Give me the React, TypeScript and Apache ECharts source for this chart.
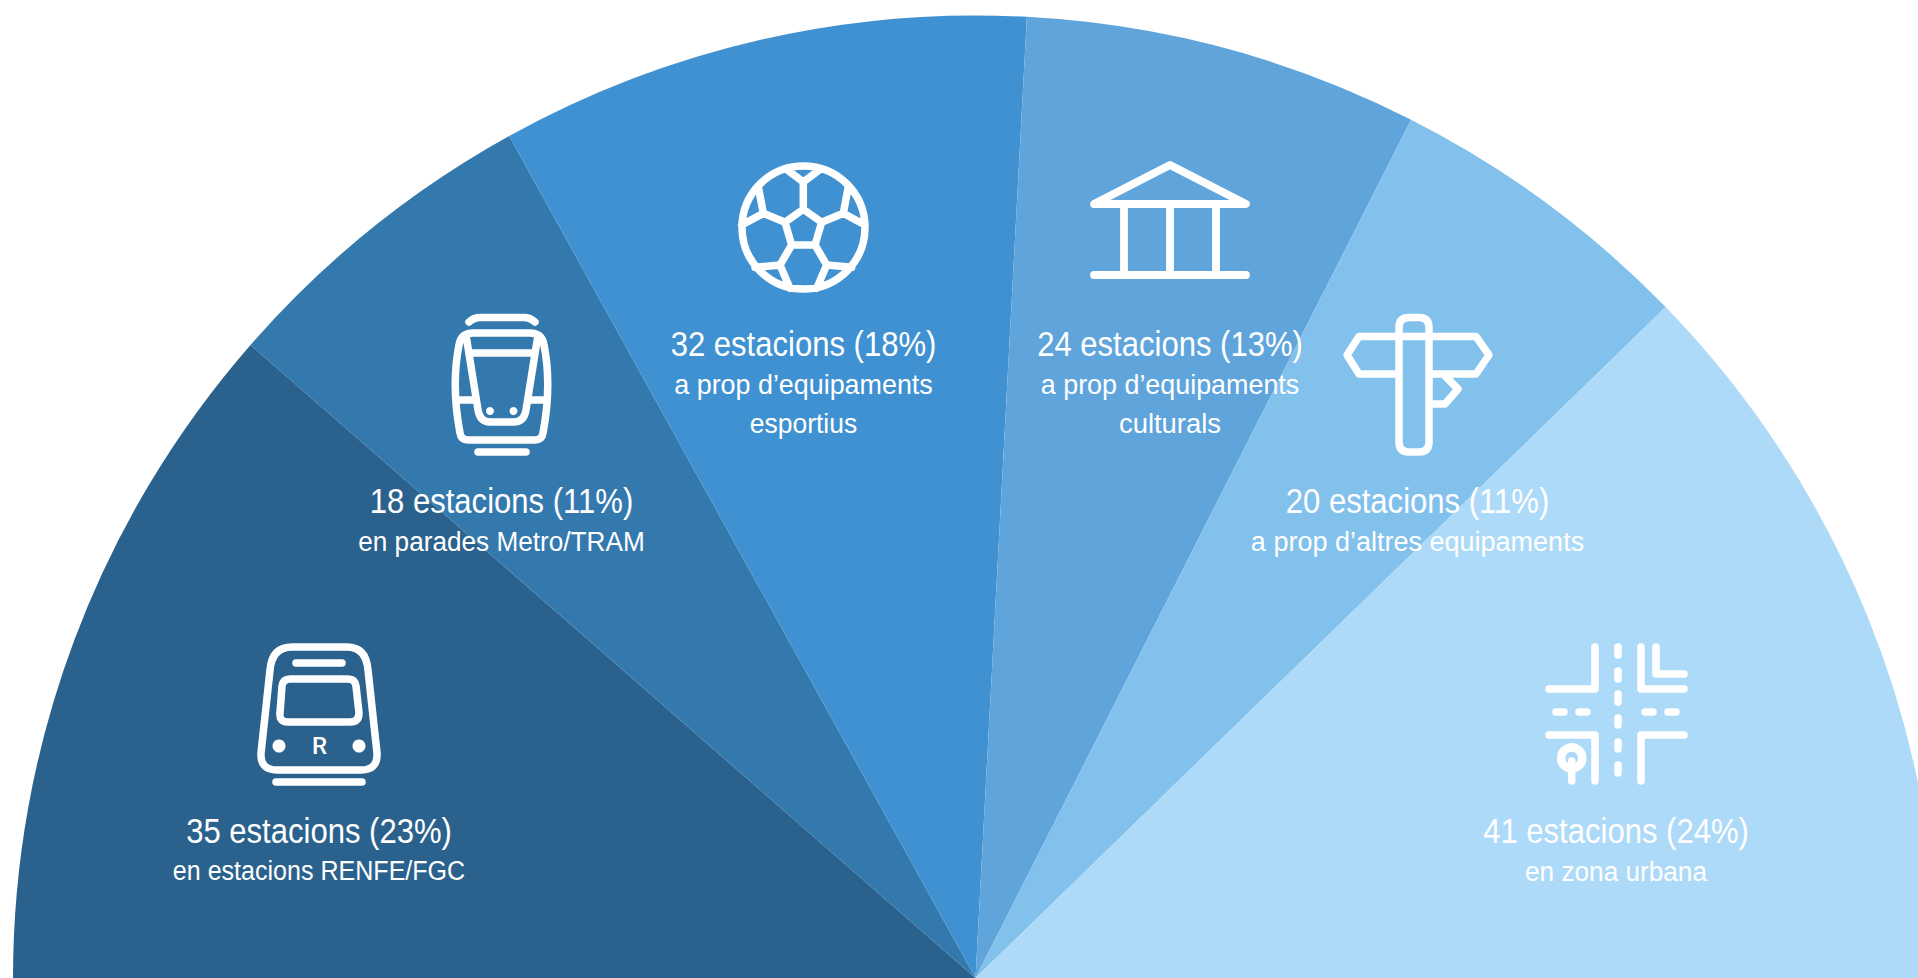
import React, { useEffect, useRef } from "react";
import * as echarts from "echarts";

const counts = [35, 18, 32, 24, 20, 41];
const percents = [23, 11, 18, 13, 11, 24];
const shares = [22.85, 11.05, 17.8, 13.25, 10.5, 24.55];
const descriptions = [
  ["en estacions RENFE/FGC"],
  ["en parades Metro/TRAM"],
  ["a prop d’equipaments", "esportius"],
  ["a prop d’equipaments", "culturals"],
  ["a prop d’altres equipaments"],
  ["en zona urbana"],
];
const descriptionWidths = [[0.895], [0.935], [0.96, 0.945], [0.96, 0.98], [0.965], [0.935]];
const colors = ["#2B628D", "#3479AE", "#4091D1", "#5FA5DC", "#82C1EC", "#ADDAF8"];
const labelCenters = [319, 501.5, 803.5, 1170, 1417.5, 1616];
const labelTops = [831, 501, 344, 344, 501, 831];

const FONT = "'Liberation Sans'";
const WHITE = "#fff";
const TOP_Z = 100;

const paths: Record<string, string> = {
  iconTrain:
    "M62 27 L117 27 Q136 27 138 50 L147 133 Q148 150 131 150 L47 150 Q30 150 31 133 L40 50 Q42 27 62 27 Z " +
    "M66 43 L112 43 M46 162 L132 162 " +
    "M60 59 L118 59 Q125 59 126 66 L129 93 Q129 102 120 102 L58 102 Q49 102 50 93 L52 66 Q53 59 60 59 Z",
  iconTram:
    "M39 22 Q44 17.5 50 17.5 L94 17.5 Q100 17.5 105 22 " +
    "M43 33 L100 33 Q112 33 114 45 Q122 85 113 133 Q112 140 105 140 L38 140 Q31 140 30 133 Q21 85 29 45 Q31 33 43 33 Z " +
    "M36 35 L48 110 Q50 122 60 122 L84 122 Q94 122 96 110 L108 35 " +
    "M40 53 L103 53 M27 100 L44 100 M100 100 L116 100 M48 152 L96 152",
  iconBall:
    "M17 77.5 A61.5 61.5 0 1 1 140 77.5 A61.5 61.5 0 1 1 17 77.5 Z " +
    "M78.3 59.3 L60 72.3 L66.7 95 L90 95 L96.7 72.3 Z " +
    "M78.3 59.3 L78.3 32 M63.3 20.7 L78.3 32 L93.3 20.7 " +
    "M60 72.3 L38.3 63.3 L33.3 36.7 M96.7 72.3 L118.3 63.3 L123.3 36.7 " +
    "M38.3 63.3 L16.7 75 M118.3 63.3 L140 75 " +
    "M66.7 95 L55 115 L65 138.3 M90 95 L101.7 115 L91.7 138.3 " +
    "M55 115 L30 117.3 M101.7 115 L126.7 117.3",
  iconTemple:
    "M19 54 L95 15 L171 54 Z M49 54 L49 125 M95 54 L95 125 M141 54 L141 125 M19 125 L171 125",
  iconSign:
    "M79 17.5 L89 17.5 Q99 17.5 99 27.5 L99 142 Q99 152 89 152 L79 152 Q69 152 69 142 L69 27.5 Q69 17.5 79 17.5 Z " +
    "M69 36.5 L29 36.5 L17 55 L29 74 L69 74 M69 36.5 L146 36.5 L159 55 L146 74 L99 74 " +
    "M115 76 L128 89 L115 104 L99 104",
  iconRoads:
    "M65 17 L65 59 L19 59 M111 17 L111 59 L154 59 M126 17 L126 44 L154 44 " +
    "M19 105 L65 105 L65 151 M154 105 L111 105 L111 151 " +
    "M88 17 L88 25 M88 41 L88 49 M88 64 L88 72 M88 88 L88 95 M88 112 L88 119 M88 135 L88 143 " +
    "M26 82 L34 82 M49 82 L57 82 M115 82 L123 82 M138 82 L146 82 " +
    "M41.7 131 L41.7 151",
};
Object.entries(paths).forEach(([name, d]) => {
  echarts.graphic.registerShape(name, echarts.graphic.extendPath(d, {}));
});

const strokeStyle = (lineWidth: number) => ({
  fill: "none",
  stroke: WHITE,
  lineWidth,
  lineCap: "round",
  lineJoin: "round",
});

const dot = (cx: number, cy: number, r: number) => ({
  type: "circle",
  z: TOP_Z,
  shape: { cx, cy, r },
  style: { fill: WHITE },
});

const stroked = (type: string, lineWidth: number) => ({ type, z: TOP_Z, style: strokeStyle(lineWidth) });

const icons = [
  {
    type: "group", x: 230, y: 620,
    children: [
      stroked("iconTrain", 7.5),
      dot(49, 126, 6.5),
      dot(129, 126, 6.5),
      {
        type: "text", z: TOP_Z, x: 89.5, y: 126,
        style: { text: "R", fill: WHITE, font: "500 24px Roboto", align: "center", verticalAlign: "middle" },
      },
    ],
  },
  {
    type: "group", x: 430, y: 300,
    children: [stroked("iconTram", 7.5), dot(60, 111, 4), dot(83.5, 111, 4)],
  },
  { type: "group", x: 725, y: 150, children: [stroked("iconBall", 7.5)] },
  { type: "group", x: 1075, y: 150, children: [stroked("iconTemple", 7.8)] },
  { type: "group", x: 1330, y: 300, children: [stroked("iconSign", 7.5)] },
  {
    type: "group", x: 1530, y: 630,
    children: [
      stroked("iconRoads", 7.5),
      {
        type: "circle",
        z: TOP_Z,
        shape: { cx: 41.7, cy: 128, r: 10.5 },
        style: { fill: "none", stroke: WHITE, lineWidth: 8.5 },
      },
    ],
  },
];

const LINE_STEP = 40;
const texts = counts.flatMap((n, i) => {
  const top = labelTops[i];
  const base = { type: "text", z: TOP_Z, x: labelCenters[i] };
  return [
    {
      ...base,
      y: top,
      scaleX: 0.9,
      style: {
        text: `${n} estacions (${percents[i]}%)`,
        fill: WHITE,
        font: `400 34.5px ${FONT}`,
        align: "center",
        verticalAlign: "middle",
      },
    },
    ...descriptions[i].map((line, j) => ({
      ...base,
      y: top + LINE_STEP * (j + 1) - (j ? 1 : 0),
      scaleX: descriptionWidths[i][j],
      style: {
        text: line,
        fill: WHITE,
        font: `400 28px ${FONT}`,
        align: "center",
        verticalAlign: "middle",
      },
    })),
  ];
});

export default function App() {
  const ref = useRef<HTMLDivElement>(null);
  useEffect(() => {
    document.body.style.margin = "0";
    document.body.style.background = "#fff";
    const chart = echarts.init(ref.current!, null, { renderer: "svg" });
    chart.setOption({
      animation: false,
      backgroundColor: "#fff",
      series: [
        {
          type: "pie",
          z: 0,
          center: [975.5, 978],
          radius: [0, 962.5],
          startAngle: 180,
          endAngle: 0,
          clockwise: true,
          silent: true,
          avoidLabelOverlap: false,
          label: { show: false },
          labelLine: { show: false },
          data: shares.map((value, i) => ({
            value,
            name: `${counts[i]} estacions`,
            itemStyle: { color: colors[i] },
          })),
        },
      ],
      graphic: { elements: [...icons, ...texts] },
    });
    return () => chart.dispose();
  }, []);
  return <div ref={ref} style={{ width: 1918, height: 978, overflow: "hidden" }} />;
}
